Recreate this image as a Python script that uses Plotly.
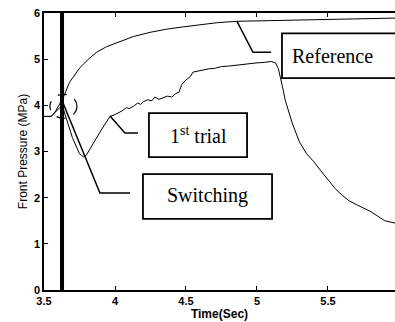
import plotly.graph_objects as go

# Reference pressure curve
ref_time = [3.5, 3.55, 3.575, 3.6, 3.636, 3.68, 3.754, 3.82, 3.871, 3.94, 4.012, 4.129,
            4.246, 4.364, 4.481, 4.599, 4.72, 4.857, 5.0, 5.27, 5.6, 5.972]
ref_pres = [3.76, 3.76, 3.84, 3.98, 4.17, 4.5, 4.82, 5.02, 5.15, 5.27, 5.36, 5.49,
            5.58, 5.65, 5.70, 5.75, 5.79, 5.82, 5.83, 5.85, 5.87, 5.89]

# 1st trial pressure curve
trial_time = [3.5, 3.55, 3.58, 3.61, 3.63, 3.65, 3.7, 3.75, 3.78, 3.8, 3.85, 3.9, 3.965,
              4.0, 4.05, 4.08, 4.1, 4.13, 4.16, 4.18, 4.2, 4.23, 4.26, 4.28, 4.31, 4.34,
              4.37, 4.4, 4.43, 4.45, 4.47, 4.5, 4.53, 4.55, 4.58, 4.62, 4.66, 4.7, 4.75,
              4.8, 4.85, 4.9, 4.95, 5.0, 5.05, 5.1, 5.13, 5.15, 5.18, 5.2, 5.25, 5.3,
              5.35, 5.4, 5.45, 5.5, 5.55, 5.6, 5.65, 5.7, 5.75, 5.8, 5.85, 5.9, 5.972]
trial_pres = [3.76, 3.76, 3.85, 3.95, 3.98, 3.8, 3.3, 2.95, 2.88, 2.93, 3.2, 3.45, 3.76,
              3.80, 3.88, 3.95, 3.93, 3.98, 4.05, 4.02, 4.08, 4.12, 4.10, 4.18, 4.13, 4.16,
              4.20, 4.18, 4.26, 4.28, 4.45, 4.55, 4.62, 4.72, 4.74, 4.76, 4.79, 4.80, 4.84,
              4.85, 4.87, 4.88, 4.91, 4.92, 4.93, 4.95, 4.92, 4.8, 4.4, 4.1, 3.6, 3.2,
              2.95, 2.78, 2.58, 2.38, 2.2, 2.05, 1.93, 1.85, 1.78, 1.7, 1.6, 1.5, 1.45]

switch_time = 3.627
x_ticks = [3.5, 4, 4.5, 5, 5.5]
x_tick_labels = ["3.5", "4", "4.5", "5", "5.5"]
y_ticks = [0, 1, 2, 3, 4, 5, 6]

fig = go.Figure()
fig.add_trace(go.Scatter(x=ref_time, y=ref_pres, mode="lines",
                         line=dict(color="black", width=1), showlegend=False))
fig.add_trace(go.Scatter(x=trial_time, y=trial_pres, mode="lines",
                         line=dict(color="black", width=1), showlegend=False))
fig.add_trace(go.Scatter(x=[switch_time, switch_time], y=[0, 6], mode="lines",
                         line=dict(color="black", width=4), showlegend=False))

shapes = []
def path_line(pts, w=1.5):
    d = "M " + " L ".join(f"{x},{y}" for x, y in pts)
    shapes.append(dict(type="path", xref="x", yref="y", path=d,
                       line=dict(color="black", width=w)))

path_line([(4.859, 5.82), (4.972, 5.15), (5.099, 5.15)])
path_line([(3.634, 4.05), (3.894, 2.10), (4.106, 2.10)])
path_line([(3.965, 3.77), (4.070, 3.40), (4.162, 3.40)])

for x0, x1, y0, y1 in [(5.176, 6.2, 4.59, 5.56), (4.239, 4.930, 2.88, 3.83),
                       (4.197, 5.106, 1.54, 2.51)]:
    shapes.append(dict(type="rect", xref="x", yref="y", x0=x0, x1=x1, y0=y0, y1=y1,
                       line=dict(color="black", width=1.8), fillcolor="white", layer="above"))

shapes.append(dict(type="circle", xref="x", yref="y", x0=3.542, x1=3.732, y0=3.72, y1=4.24,
                   line=dict(color="black", width=1.2, dash="dash")))

serif = dict(family="Liberation Serif", size=20, color="black")
annotations = [
    dict(x=5.53, y=5.07, xref="x", yref="y", text="Reference", showarrow=False, font=serif),
    dict(x=4.585, y=3.35, xref="x", yref="y", text="1<sup>st</sup> trial", showarrow=False, font=serif),
    dict(x=4.65, y=2.04, xref="x", yref="y", text="Switching", showarrow=False, font=serif),
]

fig.update_layout(
    width=395, height=322,
    margin=dict(l=44, r=0, t=13, b=32),
    paper_bgcolor="white", plot_bgcolor="white",
    shapes=shapes, annotations=annotations,
    xaxis=dict(range=[3.5, 5.972], tickvals=x_ticks, ticktext=x_tick_labels,
               ticks="inside", ticklen=4, tickcolor="black", showgrid=False, zeroline=False,
               showline=True, linecolor="black", linewidth=1.5, mirror="ticks",
               tickfont=dict(family="Liberation Sans", size=11, color="black", weight="bold"),
               title=dict(text="Time(Sec)", standoff=2,
                          font=dict(family="Liberation Sans", size=12, color="black", weight="bold"))),
    yaxis=dict(range=[0, 6], tickvals=y_ticks, ticks="inside", ticklen=4, tickcolor="black",
               showgrid=False, zeroline=False, showline=True, linecolor="black", linewidth=1.5,
               tickfont=dict(family="Liberation Sans", size=11, color="black", weight="bold"),
               title=dict(text="Front Pressure (MPa)", standoff=4,
                          font=dict(family="Liberation Sans", size=12, color="black"))),
)

fig.write_html("out.html", config={"displayModeBar": False},
               post_script="document.body.style.margin='0';document.body.style.overflow='hidden';")
